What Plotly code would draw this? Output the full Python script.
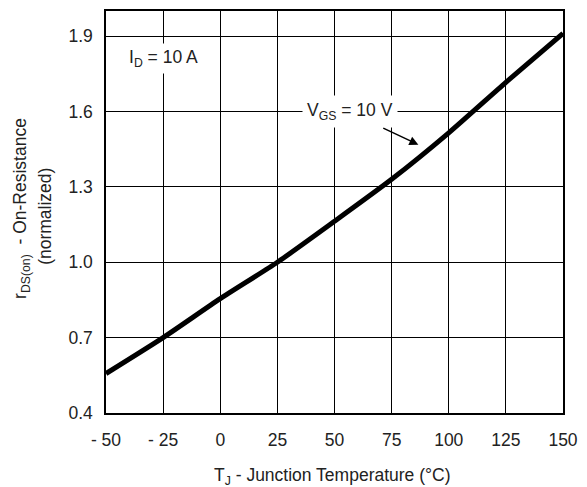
import plotly.graph_objects as go

temps = [-50, -25, 0, 25, 50, 75, 100, 125, 150]
rds_on = [0.557, 0.70, 0.855, 1.0, 1.163, 1.33, 1.515, 1.716, 1.911]

x_ticks = [-50, -25, 0, 25, 50, 75, 100, 125, 150]
x_ticktext = ["- 50", "- 25", "0", "25", "50", "75", "100", "125", "150"]
y_ticks = [0.4, 0.7, 1.0, 1.3, 1.6, 1.9]
y_ticktext = ["0.4", "0.7", "1.0", "1.3", "1.6", "1.9"]

FONT = "Liberation Sans, Arial, Helvetica, sans-serif"
TXT = "#222222"
FS = 17.5

fig = go.Figure()
fig.add_trace(go.Scatter(
    x=temps, y=rds_on, mode="lines",
    line=dict(color="black", width=5, shape="spline", smoothing=0.6),
    hoverinfo="skip", showlegend=False,
))

fig.update_layout(
    width=587, height=487,
    margin=dict(l=105.5, r=16.7, t=9, b=74),
    paper_bgcolor="white", plot_bgcolor="white",
    font=dict(family=FONT, size=FS, color=TXT),
    showlegend=False,
    xaxis=dict(
        range=[-50, 150], tickvals=x_ticks, ticktext=x_ticktext,
        showgrid=True, gridcolor="black", gridwidth=1,
        zeroline=False, showline=True, linecolor="black", linewidth=1.5,
        mirror=True, ticks="outside", ticklen=10, tickcolor="rgba(0,0,0,0)",
        tickfont=dict(family=FONT, size=FS, color=TXT),
    ),
    yaxis=dict(
        range=[0.4, 2.0], tickvals=y_ticks, ticktext=y_ticktext,
        showgrid=True, gridcolor="black", gridwidth=1,
        zeroline=False, showline=True, linecolor="black", linewidth=1.5,
        mirror=True, ticks="outside", ticklen=8, tickcolor="rgba(0,0,0,0)",
        tickfont=dict(family=FONT, size=FS, color=TXT),
    ),
)

annotations = [
    dict(text="T<sub>J</sub> - Junction Temperature (°C)", xref="paper", yref="paper",
         x=0.4955, y=-0.158, xanchor="center", yanchor="middle", showarrow=False,
         font=dict(family=FONT, size=FS, color=TXT)),
    dict(text="r<sub>DS(on)</sub>  - On-Resistance", xref="paper", yref="paper",
         x=-0.184, y=0.51, xanchor="center", yanchor="middle", textangle=-90,
         showarrow=False, font=dict(family=FONT, size=FS, color=TXT)),
    dict(text="(normalized)", xref="paper", yref="paper",
         x=-0.1334, y=0.488, xanchor="center", yanchor="middle", textangle=-90,
         showarrow=False, font=dict(family=FONT, size=FS, color=TXT)),
    dict(text="I<sub>D</sub> = 10 A", xref="x", yref="y", x=-25, y=1.81,
         xanchor="center", yanchor="middle", showarrow=False, bgcolor="white",
         borderpad=3, font=dict(family=FONT, size=FS, color=TXT)),
    dict(text="V<sub>GS</sub> = 10 V", xref="x", yref="y", x=56.9, y=1.6,
         xanchor="center", yanchor="middle", showarrow=False, bgcolor="white",
         borderpad=4, font=dict(family=FONT, size=FS, color=TXT)),
    dict(text="", xref="x", yref="y", x=86.7, y=1.468, ax=-36.6, ay=-17.3,
         axref="pixel", ayref="pixel", showarrow=True, arrowhead=2, arrowsize=1.2,
         arrowwidth=1.5, arrowcolor="black"),
]
fig.update_layout(annotations=annotations)

fig.write_html(
    "out.html",
    config={"displayModeBar": False},
    post_script="document.body.style.margin='0';document.body.style.padding='0';"
                "document.body.style.overflow='hidden';",
)
